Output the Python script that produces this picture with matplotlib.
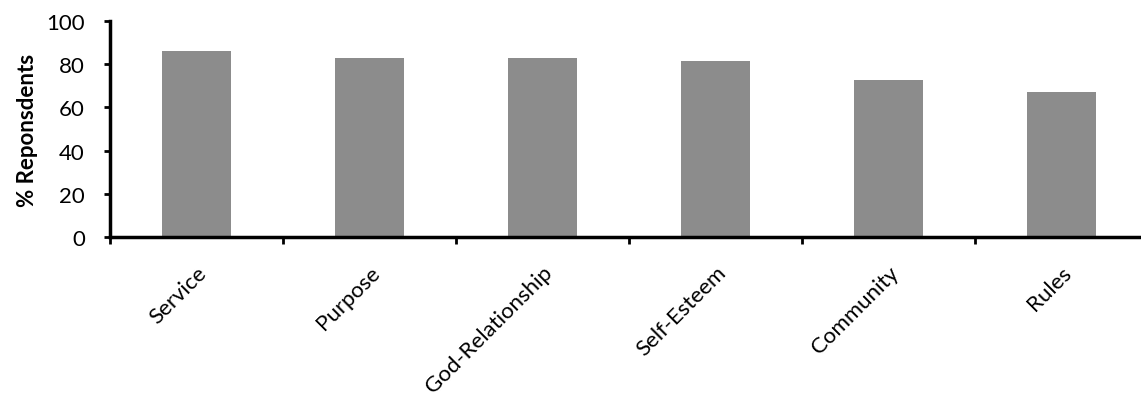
import matplotlib.pyplot as plt
import numpy as np

categories = ['Service', 'Purpose', 'God-Relationship', 'Self-Esteem', 'Community', 'Rules']
percent = [86, 83, 83, 81.5, 72.5, 67]

plt.rcParams['font.family'] = ['Lato', 'DejaVu Sans']

fig = plt.figure(figsize=(11.41, 4.02), dpi=100)
ax = fig.add_axes([0.0964, 0.408, 0.9036, 0.537])

x = np.arange(len(categories))
ax.bar(x, percent, width=0.4, color='#8c8c8c', zorder=2)

ax.set_xlim(-0.5, 5.46)
ax.set_ylim(0, 100)
ax.set_yticks(range(0, 101, 20))

# ticks between categories, labels centred on bars
ax.set_xticks(np.arange(-0.5, 5.5, 1.0))
ax.set_xticklabels([])
ax.set_xticks(x, minor=True)
ax.set_xticklabels(categories, minor=True, rotation=45, ha='right',
                   rotation_mode='anchor', fontsize=16)
ax.tick_params(axis='x', which='minor', length=0, pad=18)
ax.tick_params(axis='x', which='major', length=5, width=2, direction='out')
ax.tick_params(axis='y', length=4, width=2, direction='out', labelsize=16, pad=14)

for s in ['top', 'right']:
    ax.spines[s].set_visible(False)
for s in ['left', 'bottom']:
    ax.spines[s].set_linewidth(2.5)

ax.set_ylabel('% Reponsdents', fontsize=16, fontweight='bold', labelpad=6)

fig.savefig('out.png', dpi=100)
